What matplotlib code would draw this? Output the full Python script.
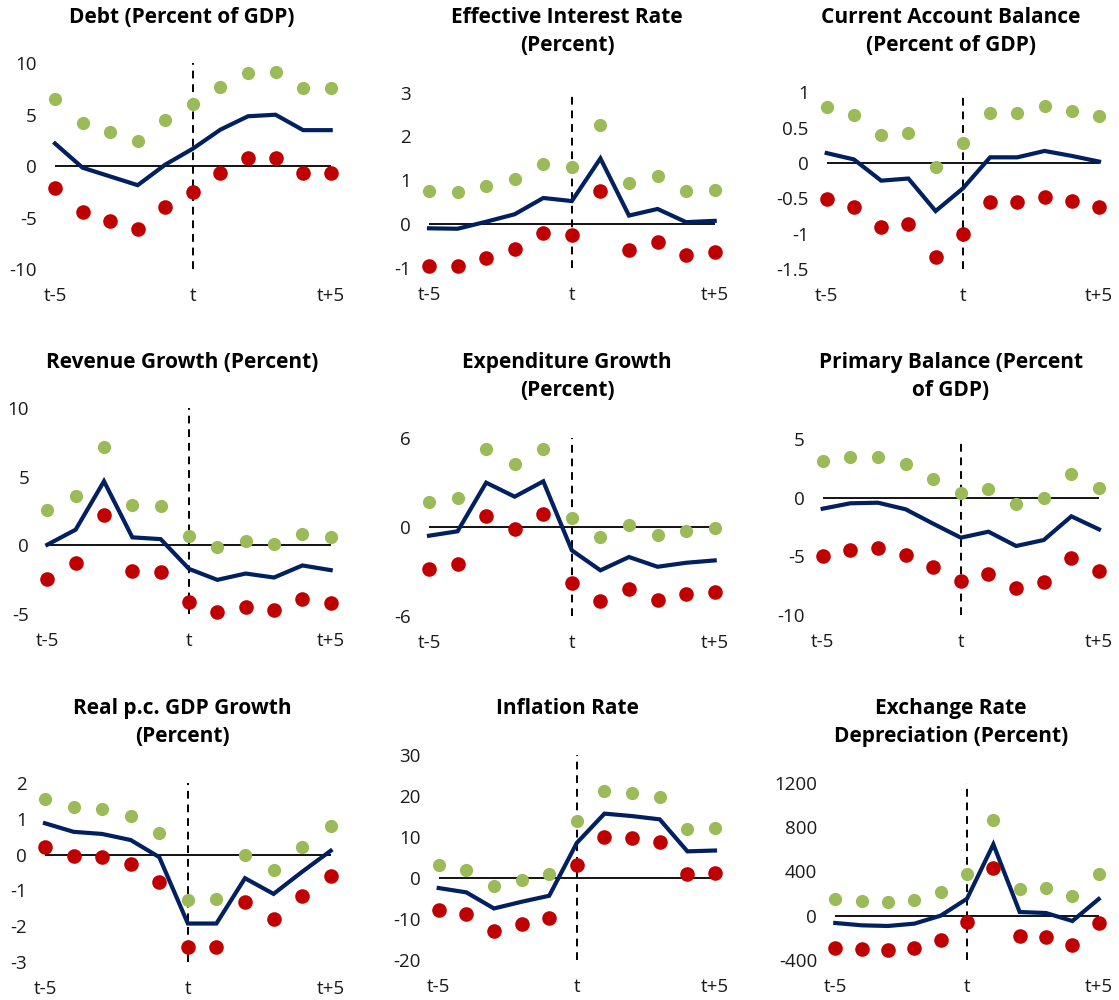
import matplotlib
matplotlib.use("Agg")
import matplotlib.pyplot as plt

plt.rcParams['font.family'] = ['Open Sans', 'DejaVu Sans']

periods = list(range(-5, 6))
xtick_labels = ["t-5", "t", "t+5"]

titles = [
    "Debt (Percent of GDP)",
    "Effective Interest Rate\n(Percent)",
    "Current Account Balance\n(Percent of GDP)",
    "Revenue Growth (Percent)",
    "Expenditure Growth\n(Percent)",
    "Primary Balance (Percent\nof GDP)",
    "Real p.c. GDP Growth\n(Percent)",
    "Inflation Rate",
    "Exchange Rate\nDepreciation (Percent)",
]

debt_high = [6.5, 4.15, 3.3, 2.4, 4.5, 6.0, 7.7, 9.05, 9.2, 7.6, 7.6]
debt_low = [-2.1, -4.45, -5.35, -6.07, -4.0, -2.5, -0.65, 0.75, 0.8, -0.65, -0.7]
debt_mid = [2.2, -0.15, -1.0, -1.85, 0.15, 1.7, 3.55, 4.85, 5.0, 3.5, 3.5]

eir_high = [0.77, 0.73, 0.88, 1.04, 1.37, 1.31, 2.27, 0.93, 1.09, 0.77, 0.78]
eir_low = [-0.94, -0.94, -0.77, -0.57, -0.19, -0.25, 0.76, -0.58, -0.40, -0.70, -0.63]
eir_mid = [-0.09, -0.10, 0.06, 0.23, 0.60, 0.53, 1.50, 0.20, 0.35, 0.05, 0.08]

ca_high = [0.79, 0.68, 0.40, 0.42, -0.05, 0.28, 0.71, 0.71, 0.80, 0.74, 0.66]
ca_low = [-0.51, -0.62, -0.91, -0.87, -1.33, -1.00, -0.55, -0.55, -0.48, -0.54, -0.62]
ca_mid = [0.14, 0.05, -0.25, -0.22, -0.68, -0.36, 0.08, 0.08, 0.17, 0.10, 0.02]

rev_high = [2.56, 3.63, 7.2, 2.98, 2.88, 0.71, -0.15, 0.29, 0.07, 0.85, 0.59]
rev_low = [-2.46, -1.29, 2.24, -1.90, -1.95, -4.1, -4.88, -4.46, -4.7, -3.88, -4.17]
rev_mid = [0.05, 1.15, 4.68, 0.59, 0.46, -1.71, -2.51, -2.05, -2.34, -1.46, -1.80]

exp_high = [1.72, 1.96, 5.26, 4.29, 5.28, 0.61, -0.68, 0.14, -0.54, -0.25, -0.07]
exp_low = [-2.84, -2.53, 0.74, -0.14, 0.86, -3.79, -5.03, -4.22, -4.92, -4.56, -4.40]
exp_mid = [-0.59, -0.29, 3.0, 2.05, 3.09, -1.58, -2.93, -2.03, -2.69, -2.42, -2.26]

pb_high = [3.1, 3.49, 3.49, 2.84, 1.62, 0.37, 0.77, -0.51, 0.0, 1.99, 0.85]
pb_low = [-4.97, -4.43, -4.29, -4.89, -5.9, -7.07, -6.53, -7.73, -7.16, -5.17, -6.22]
pb_mid = [-0.94, -0.48, -0.43, -0.99, -2.22, -3.41, -2.9, -4.12, -3.61, -1.59, -2.7]

gdp_high = [1.56, 1.33, 1.27, 1.07, 0.60, -1.26, -1.25, 0.0, -0.42, 0.21, 0.79]
gdp_low = [0.22, -0.03, -0.07, -0.27, -0.76, -2.6, -2.6, -1.34, -1.79, -1.15, -0.59]
gdp_mid = [0.88, 0.64, 0.58, 0.41, -0.07, -1.93, -1.93, -0.66, -1.10, -0.48, 0.11]

inf_high = [3.1, 1.88, -1.96, -0.49, 0.98, 13.9, 21.1, 20.7, 19.8, 12.0, 12.2]
inf_low = [-7.84, -8.9, -12.9, -11.2, -9.8, 3.27, 10.1, 9.8, 8.7, 0.98, 1.22]
inf_mid = [-2.45, -3.5, -7.43, -5.8, -4.33, 8.57, 15.7, 15.1, 14.3, 6.5, 6.7]

fx_high = [147, 129, 123, 138, 214, 373, 860, 244, 247, 177, 373]
fx_low = [-289, -304, -310, -292, -217, -57, 433, -183, -195, -265, -66]
fx_mid = [-66, -87, -93, -72, 0, 153, 644, 33, 24, -48, 150]

series = [
    (debt_high, debt_low, debt_mid),
    (eir_high, eir_low, eir_mid),
    (ca_high, ca_low, ca_mid),
    (rev_high, rev_low, rev_mid),
    (exp_high, exp_low, exp_mid),
    (pb_high, pb_low, pb_mid),
    (gdp_high, gdp_low, gdp_mid),
    (inf_high, inf_low, inf_mid),
    (fx_high, fx_low, fx_mid),
]

yticks = [
    [-10, -5, 0, 5, 10],
    [-1, 0, 1, 2, 3],
    [-1.5, -1, -0.5, 0, 0.5, 1],
    [-5, 0, 5, 10],
    [-6, 0, 6],
    [-10, -5, 0, 5],
    [-3, -2, -1, 0, 1, 2],
    [-20, -10, 0, 10, 20, 30],
    [-400, 0, 400, 800, 1200],
]

# layout in pixels: x_left, x_right, y_top, y_bottom (figure pixel coords)
W, H = 1119, 1000
rects = [
    (55, 330.7, 63.3, 269),
    (429, 714.7, 92.5, 268.3),
    (826.7, 1099, 92.3, 269),
    (47.3, 330.7, 408.3, 614),
    (429, 714.7, 438.3, 615.7),
    (822.7, 1099, 439, 615),
    (45, 330.7, 783.3, 961.7),
    (438.7, 715, 755, 960),
    (835.3, 1098.7, 782.7, 960),
]
col_centers = [182, 567, 951]
row_tops = [7, 352, 698]

GREEN = "#9BBB59"
RED = "#C00000"
NAVY = "#002060"

fig = plt.figure(figsize=(W / 100, H / 100), dpi=100)

def fmt(v):
    if float(v).is_integer():
        return str(int(v))
    return ("%g" % v)

for i in range(9):
    x0, x1, yt, yb = rects[i]
    ax = fig.add_axes([x0 / W, 1 - yb / H, (x1 - x0) / W, (yb - yt) / H])
    hi, lo, mid = series[i]
    ax.axhline(0, color="black", lw=1.3, zorder=1)
    ax.axvline(0, color="black", lw=1.4, ls=(0, (4, 3)), zorder=1)
    ax.plot(periods, mid, color=NAVY, lw=3.0, zorder=3, clip_on=False, solid_joinstyle="miter")
    ax.plot(periods, hi, 'o', color=GREEN, ms=9.5, mec="none", zorder=4, clip_on=False)
    ax.plot(periods, lo, 'o', color=RED, ms=10.5, mec="none", zorder=4, clip_on=False)
    yt_vals = yticks[i]
    ax.set_ylim(yt_vals[0], yt_vals[-1])
    ax.set_xlim(-5, 5)
    ax.set_yticks(yt_vals)
    ax.set_yticklabels([fmt(v) for v in yt_vals])
    ax.set_xticks([-5, 0, 5])
    ax.set_xticklabels(xtick_labels)
    for s in ax.spines.values():
        s.set_visible(False)
    ax.tick_params(axis="both", length=0, labelsize=13.5, colors="#1a1a1a")
    ax.tick_params(axis="y", pad=13)
    ax.tick_params(axis="x", pad=13)
    ax.set_facecolor("none")
    tx = col_centers[i % 3]
    ty = row_tops[i // 3]
    fig.text(tx / W, 1 - ty / H, titles[i], ha="center", va="top",
             fontsize=15, fontweight="bold", linespacing=1.42)

fig.savefig("out.png", dpi=100, facecolor="white")
